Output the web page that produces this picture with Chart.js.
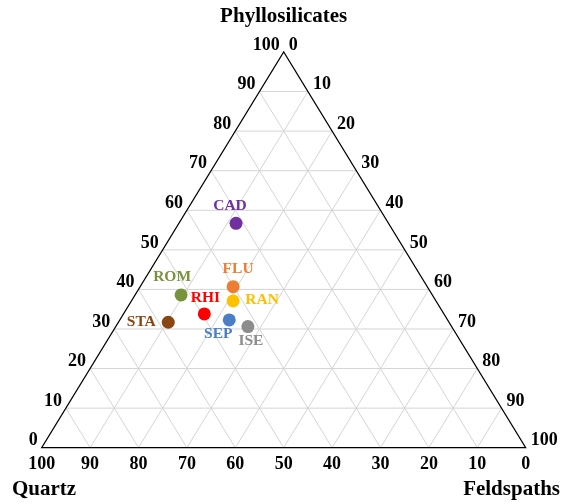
<!DOCTYPE html>
<html>
<head>
<meta charset="utf-8">
<script src="https://cdn.jsdelivr.net/npm/chart.js@4/dist/chart.umd.min.js"></script>
<style>
    html, body { margin: 0; padding: 0; background: #ffffff; }
    #wrap { width: 566px; height: 504px; }
</style>
</head>
<body>
<div id="wrap"><canvas id="ternaryChart" width="566" height="504"></canvas></div>
<script>
// samples and composition (%)
const samples = ['CAD', 'FLU', 'RAN', 'ROM', 'RHI', 'STA', 'SEP', 'ISE'];
const quartz = [31.5, 40.1, 41.9, 51.9, 49.5, 58.0, 45.1, 42.1];
const phyllo = [56.7, 40.7, 37.1, 38.6, 33.8, 31.7, 32.3, 30.6];
const feldspaths = [11.8, 19.2, 21.0, 9.5, 16.7, 10.3, 22.6, 27.3];

const gridTicks = [10, 20, 30, 40, 50, 60, 70, 80, 90];
const edgeTicks = [0, 10, 20, 30, 40, 50, 60, 70, 80, 90, 100];

const colors = ['#7030A0', '#ED7D31', '#FFC000', '#77933C', '#FF0000', '#8B4513', '#4A7EC6', '#8C8C8C'];
// label offset from its point, in px
const labelOffsets = [[-6, -17], [5, -18], [29, -1], [-9, -18], [1, -16], [-27, 0], [-11, 14], [3, 14]];

const FONT = '"Liberation Serif", "Times New Roman", serif';

// ternary -> cartesian (x along base, y = phyllosilicates)
function toXY(p, f) {
    return {x: f + p / 2, y: p};
}

const datasets = samples.map(function (name, i) {
    return {
        label: name,
        data: [toXY(phyllo[i], feldspaths[i])],
        backgroundColor: colors[i],
        borderWidth: 0,
        pointRadius: 6.5,
        pointHoverRadius: 6.5
    };
});

const ternaryPlugin = {
    id: 'ternary',
    beforeDatasetsDraw(chart) {
        const ctx = chart.ctx;
        const xs = chart.scales.x, ys = chart.scales.y;
        const px = v => xs.getPixelForValue(v);
        const py = v => ys.getPixelForValue(v);

        function line(a, b) {
            ctx.beginPath();
            ctx.moveTo(px(a.x), py(a.y));
            ctx.lineTo(px(b.x), py(b.y));
            ctx.stroke();
        }

        ctx.save();
        ctx.strokeStyle = '#d4d4d4';
        ctx.lineWidth = 1;
        gridTicks.forEach(function (k) {
            // constant phyllosilicates
            line(toXY(k, 0), toXY(k, 100 - k));
            // constant feldspaths
            line(toXY(0, k), toXY(100 - k, k));
            // constant quartz
            line(toXY(0, 100 - k), toXY(100 - k, 0));
        });

        // outline
        ctx.strokeStyle = '#000000';
        ctx.lineWidth = 1.2;
        ctx.beginPath();
        const A = toXY(0, 0), B = toXY(0, 100), C = toXY(100, 0);
        ctx.moveTo(px(A.x), py(A.y));
        ctx.lineTo(px(B.x), py(B.y));
        ctx.lineTo(px(C.x), py(C.y));
        ctx.closePath();
        ctx.stroke();

        // tick labels
        ctx.fillStyle = '#000000';
        ctx.font = 'bold 18px ' + FONT;
        ctx.textBaseline = 'middle';
        edgeTicks.forEach(function (k) {
            // left edge: phyllosilicates
            let p = toXY(k, 0);
            ctx.textAlign = 'right';
            ctx.fillText(String(k), px(p.x) - 4, py(p.y) - 7);
            // right edge: feldspaths
            p = toXY(100 - k, k);
            ctx.textAlign = 'left';
            ctx.fillText(String(k), px(p.x) + 5, py(p.y) - 7);
            // base: quartz
            p = toXY(0, 100 - k);
            ctx.textAlign = 'center';
            ctx.fillText(String(k), px(p.x), py(p.y) + 17);
        });

        // vertex titles
        ctx.font = 'bold 21px ' + FONT;
        ctx.textAlign = 'center';
        ctx.fillText('Phyllosilicates', px(50), 17);
        ctx.textAlign = 'left';
        ctx.fillText('Quartz', 12, 490);
        ctx.textAlign = 'right';
        ctx.fillText('Feldspaths', 560, 490);
        ctx.restore();
    },
    afterDatasetsDraw(chart) {
        const ctx = chart.ctx;
        ctx.save();
        ctx.font = 'bold 15.5px ' + FONT;
        ctx.textAlign = 'center';
        ctx.textBaseline = 'middle';
        chart.data.datasets.forEach(function (ds, i) {
            const pt = chart.getDatasetMeta(i).data[0];
            ctx.fillStyle = colors[i];
            ctx.fillText(ds.label, pt.x + labelOffsets[i][0], pt.y + labelOffsets[i][1]);
        });
        ctx.restore();
    }
};

new Chart(document.getElementById('ternaryChart'), {
    type: 'scatter',
    data: {datasets: datasets},
    options: {
        responsive: false,
        animation: false,
        clip: false,
        layout: {
            padding: {left: 41.7, right: 40.3, top: 52, bottom: 56.3}
        },
        plugins: {
            legend: {display: false},
            tooltip: {enabled: false}
        },
        scales: {
            x: {type: 'linear', min: 0, max: 100, display: false},
            y: {type: 'linear', min: 0, max: 100, display: false}
        }
    },
    plugins: [ternaryPlugin]
});
</script>
</body>
</html>
